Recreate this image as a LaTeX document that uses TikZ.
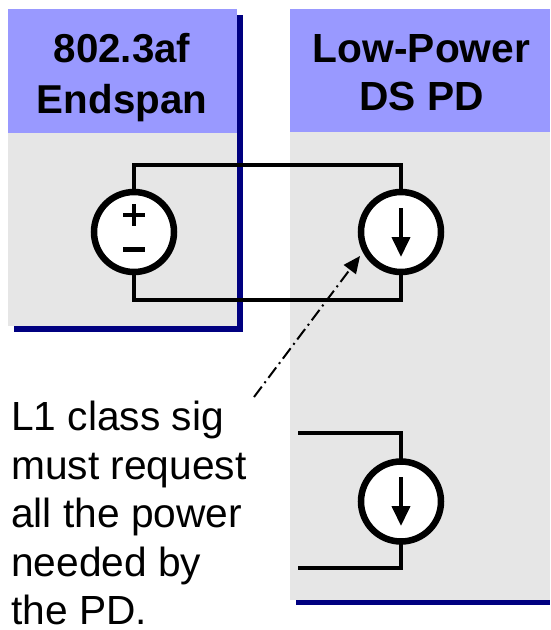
\documentclass[tikz,border=0pt]{standalone}
\usepackage{fontspec}
\setmainfont{Liberation Sans}
\usetikzlibrary{arrows.meta}
\definecolor{hdrblue}{HTML}{9999FF}
\definecolor{panelgrey}{HTML}{E6E6E6}
\definecolor{shadownavy}{HTML}{000080}
\tikzset{
  wire/.style={draw=black,line width=4.5pt,line join=miter},
  source/.style={circle,draw=black,fill=white,line width=6.5pt,minimum size=80pt,inner sep=0pt,outer sep=0pt},
  hdrtext/.style={align=center,inner sep=0pt,text=black,anchor=base},
  note/.style={font=\fontsize{40.7}{48.5}\selectfont,align=left,inner sep=0pt,anchor=north west,text=black},
  currentarrow/.style={line width=4pt,-{Triangle[length=20pt,width=18pt]},shorten >=0pt},
  callout/.style={line width=2pt,dash pattern=on 13pt off 4.5pt on 2pt off 4.5pt,-{Triangle[length=17pt,width=15pt]}}
}
\begin{document}
\begin{tikzpicture}[x=1pt,y=-1pt]
\useasboundingbox (0,0) rectangle (550,630);
% panels
\fill[shadownavy] (14,15) rectangle (243,332);
\fill[panelgrey] (8,133) rectangle (237,326);
\fill[hdrblue] (8,9) rectangle (237,133);
\fill[shadownavy] (296,600) rectangle (550,605);
\fill[panelgrey] (290,132) rectangle (550,600);
\fill[hdrblue] (290,9) rectangle (550,132);
% headers
\node[hdrtext,font=\fontsize{40.3}{51}\selectfont\bfseries] (h1) at (122,113) {802.3af\\Endspan};
\node[hdrtext,font=\fontsize{40.7}{48}\selectfont\bfseries] (h2) at (421.5,110) {Low-Power\\DS PD};
% sources
\node[source] (vs) at (134,232) {};
\node[source] (cs1) at (401,232) {};
\node[source] (cs2) at (401,501.5) {};
% wires
\draw[wire] (vs.north) -- ++(0,-27) -| (cs1.north);
\draw[wire] (vs.south) -- ++(0,28) -| (cs1.south);
\coordinate (t2) at (298,433);
\coordinate (b2) at (298,568);
\draw[wire] (t2) -| (cs2.north);
\draw[wire] (b2) -| (cs2.south);
% plus and minus
\draw[line width=4pt] (123,215) -- (145,215) (134,204) -- (134,226);
\draw[line width=5pt] (123,249.5) -- (145,249.5);
% current arrows
\coordinate (a1s) at (401,208);
\coordinate (a1e) at (401,257);
\coordinate (a2s) at (401,477);
\coordinate (a2e) at (401,526);
\draw[currentarrow] (a1s) -- (a1e);
\draw[currentarrow] (a2s) -- (a2e);
% note
\node[note] (note) at (11,401) {L1 class sig\\must request\\all the power\\needed by\\the PD.};
\coordinate (cstart) at (254,397);
\coordinate (ctip) at (360,256);
\draw[callout] (cstart) -- (ctip);
\end{tikzpicture}
\end{document}
